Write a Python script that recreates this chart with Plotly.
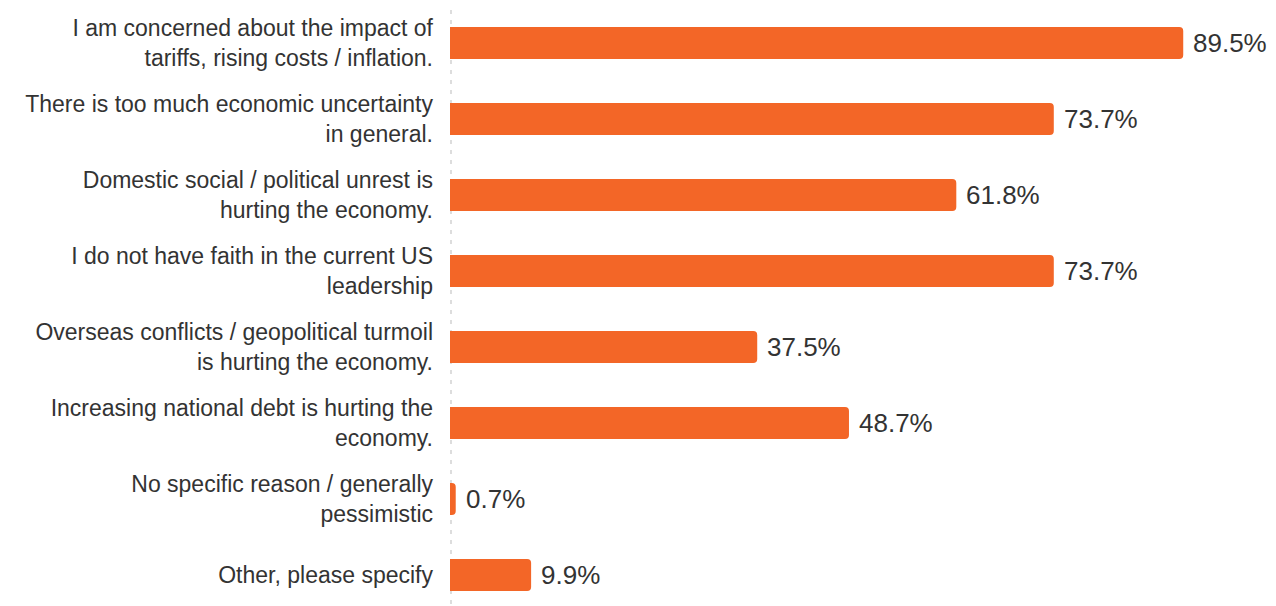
import plotly.graph_objects as go

categories = [
    "I am concerned about the impact of<br>tariffs, rising costs / inflation.",
    "There is too much economic uncertainty<br>in general.",
    "Domestic social / political unrest is<br>hurting the economy.",
    "I do not have faith in the current US<br>leadership",
    "Overseas conflicts / geopolitical turmoil<br>is hurting the economy.",
    "Increasing national debt is hurting the<br>economy.",
    "No specific reason / generally<br>pessimistic",
    "Other, please specify",
]
values = [89.5, 73.7, 61.8, 73.7, 37.5, 48.7, 0.7, 9.9]
value_labels = ["89.5%", "73.7%", "61.8%", "73.7%", "37.5%", "48.7%", "0.7%", "9.9%"]

W, H = 1276, 606
ML, MR, MT, MB = 442, 0, 0, 0

fig = go.Figure()
fig.add_trace(go.Bar(
    x=values, y=categories, orientation="h",
    marker=dict(color="#F36627", line=dict(width=0)),
    hoverinfo="skip",
))

for c, v, t in zip(categories, values, value_labels):
    fig.add_annotation(x=v, y=c, text=t, showarrow=False, xanchor="left",
                       xshift=8, yshift=0,
                       font=dict(family="Liberation Sans, Arial", size=26, color="#333333"))

# dotted baseline at the zero line
fig.add_shape(type="line", xref="x", yref="paper", x0=0, x1=0, y0=0, y1=1,
              line=dict(color="#DDDDDD", width=4, dash="4px,6px"), layer="below")

fig.update_layout(
    width=W, height=H,
    margin=dict(l=ML, r=MR, t=MT, b=MB),
    paper_bgcolor="white", plot_bgcolor="white",
    bargap=0.58,
    barcornerradius=4,
    showlegend=False,
    font=dict(family="Liberation Sans, Arial", color="#333333"),
)
fig.update_xaxes(range=[0, 101.8], visible=False, showgrid=False, zeroline=False,
                 automargin=False)
fig.update_yaxes(range=[7.513, -0.4605], showgrid=False, zeroline=False, showline=False,
                 ticks="", ticklabelstandoff=16, automargin=False,
                 tickfont=dict(family="Liberation Sans, Arial", size=23, color="#333333"))

fig.write_html("out.html")
